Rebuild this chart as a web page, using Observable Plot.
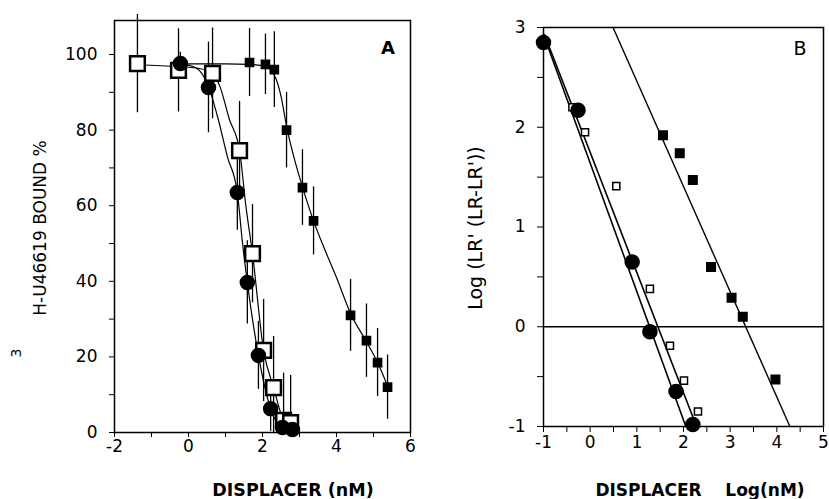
<!DOCTYPE html>
<html><head><meta charset="utf-8">
<script src="https://cdn.jsdelivr.net/npm/d3@7"></script>
<script src="https://cdn.jsdelivr.net/npm/@observablehq/plot@0.6"></script>
<style>
body{margin:0;background:#fff;}
#wrap{position:relative;width:829px;height:499px;overflow:hidden;background:#fff;}
#wrap svg{position:absolute;top:0;}
</style></head><body><div id="wrap"></div>
<script>
// ---------- Panel A data ----------
const openA_x   = [-1.38, -0.27, 0.65, 1.38, 1.73, 2.03, 2.30, 2.57, 2.76];
const openA_y   = [97.6, 95.8, 95.0, 74.6, 47.3, 21.7, 11.9, 3.2, 2.6];
const openA_err = [13, 11, 12, 13, 13, 13.5, 13.5, 12.5, 12.5];

const circA_x   = [-0.22, 0.54, 1.32, 1.59, 1.89, 2.22, 2.54, 2.81];
const circA_y   = [97.6, 91.3, 63.5, 39.7, 20.4, 6.3, 1.3, 0.8];
const circA_err = [3, 12, 10, 11, 9, 6, 3, 3];

const sqA_x   = [1.65, 2.08, 2.32, 2.65, 3.08, 3.38, 4.38, 4.81, 5.11, 5.38];
const sqA_y   = [97.9, 97.4, 96.0, 80.0, 64.8, 56.0, 31.0, 24.3, 18.5, 12.0];
const sqA_err = [9, 8, 10, 10, 10, 9, 9.5, 9.7, 9, 8.5];

// fitted curves
const curveOpenA_x = [-1.38, -0.27, 0.3, 0.65, 0.85, 1.1, 1.38, 1.55, 1.73, 2.03, 2.30, 2.57, 2.76];
const curveOpenA_y = [97.3, 96.8, 96.3, 95.0, 91.5, 83, 74.6, 60, 47.3, 21.7, 11.9, 3.2, 1.5];
const curveCircA_x = [-0.22, 0.2, 0.54, 0.8, 1.05, 1.32, 1.45, 1.59, 1.89, 2.22, 2.54, 2.81];
const curveCircA_y = [97.6, 96.5, 91.5, 83, 73, 63.5, 51, 39.7, 20.4, 6.3, 1.3, 0.8];
const curveSqA_x = [0.0, 1.0, 1.65, 2.08, 2.32, 2.5, 2.65, 2.9, 3.08, 3.38, 3.7, 4.0, 4.38, 4.81, 5.11, 5.38];
const curveSqA_y = [97.5, 97.5, 97.4, 96.8, 94.5, 89, 81, 71, 65, 56, 48, 41, 31.5, 24, 18.5, 12.3];

const xTicksA = [-2, -1, 0, 1, 2, 3, 4, 5, 6];
const xLabelsA = [-2, 0, 2, 4, 6];
const yTicksA = [0, 10, 20, 30, 40, 50, 60, 70, 80, 90, 100];
const yLabelsA = [0, 20, 40, 60, 80, 100];

// ---------- Panel B data ----------
const circB_x = [-1.0, -0.26, 0.90, 1.28, 1.84, 2.20];
const circB_y = [2.85, 2.17, 0.65, -0.05, -0.65, -0.98];
const openB_x = [-0.38, -0.11, 0.56, 1.28, 1.71, 2.01, 2.31];
const openB_y = [2.20, 1.95, 1.41, 0.38, -0.19, -0.54, -0.85];
const sqB_x = [1.56, 1.92, 2.20, 2.59, 3.03, 3.27, 3.97];
const sqB_y = [1.92, 1.74, 1.47, 0.60, 0.29, 0.10, -0.53];

const lineB1_x = [-1.0, 2.05];  const lineB1_y = [2.93, -1];
const lineB2_x = [-0.98, 2.28]; const lineB2_y = [2.93, -1];
const lineB3_x = [0.49, 4.28];  const lineB3_y = [3.0, -1];

const xTicksB = [-1, -0.5, 0, 0.5, 1, 1.5, 2, 2.5, 3, 3.5, 4, 4.5, 5];
const xLabelsB = [-1, 0, 1, 2, 3, 4, 5];
const yTicksB = [-1, -0.5, 0, 0.5, 1, 1.5, 2, 2.5, 3];
const yLabelsB = [-1, 0, 1, 2, 3];

// ---------- helpers ----------
const pts = (xs, ys, es) => xs.map((x, i) => ({x, y: ys[i], e: es ? es[i] : 0}));
const fmt = labels => d => labels.includes(d) ? String(d) : "";
const baseStyle = {fontFamily: "DejaVu Sans", fontSize: "17px", color: "black", background: "white", overflow: "visible"};

const openA = pts(openA_x, openA_y, openA_err);
const circA = pts(circA_x, circA_y, circA_err);
const sqA = pts(sqA_x, sqA_y, sqA_err);

const plotA = Plot.plot({
  width: 420, height: 499,
  marginLeft: 114, marginRight: 10, marginTop: 20, marginBottom: 67,
  x: {domain: [-2, 6]},
  y: {domain: [0, 109]},
  style: baseStyle,
  marks: [
    Plot.axisX({ticks: xTicksA, tickFormat: fmt(xLabelsA), tickSize: 5, tickPadding: 2, label: null}),
    Plot.axisY({ticks: yTicksA, tickFormat: fmt(yLabelsA), tickSize: 5, tickPadding: 12, label: null}),
    Plot.line(pts(curveOpenA_x, curveOpenA_y), {x: "x", y: "y", curve: "monotone-x", stroke: "black", strokeWidth: 1.2}),
    Plot.line(pts(curveCircA_x, curveCircA_y), {x: "x", y: "y", curve: "monotone-x", stroke: "black", strokeWidth: 1.2}),
    Plot.line(pts(curveSqA_x, curveSqA_y), {x: "x", y: "y", curve: "monotone-x", stroke: "black", strokeWidth: 1.2}),
    Plot.ruleX(openA, {x: "x", y1: d => Math.max(0, d.y - d.e), y2: d => d.y + d.e, stroke: "black", strokeWidth: 1.3}),
    Plot.ruleX(circA, {x: "x", y1: d => Math.max(0, d.y - d.e), y2: d => d.y + d.e, stroke: "black", strokeWidth: 1.3}),
    Plot.ruleX(sqA, {x: "x", y1: d => Math.max(0, d.y - d.e), y2: d => d.y + d.e, stroke: "black", strokeWidth: 1.3}),
    Plot.dot(openA, {x: "x", y: "y", symbol: "square", r: 8.3, fill: "white", stroke: "black", strokeWidth: 2.5}),
    Plot.dot(circA, {x: "x", y: "y", symbol: "circle", r: 7, fill: "black", stroke: "black"}),
    Plot.dot(sqA, {x: "x", y: "y", symbol: "square", r: 4.6, fill: "black", stroke: "black"}),
    Plot.frame({stroke: "black", strokeWidth: 1.5})
  ]
});
plotA.style.left = "0px";

const plotB = Plot.plot({
  width: 409, height: 499,
  marginLeft: 123, marginRight: 6, marginTop: 27, marginBottom: 73,
  x: {domain: [-1, 5]},
  y: {domain: [-1, 3]},
  style: baseStyle,
  marks: [
    Plot.axisX({ticks: xTicksB, tickFormat: fmt(xLabelsB), tickSize: 6, tickPadding: 3, label: null}),
    Plot.axisY({ticks: yTicksB, tickFormat: fmt(yLabelsB), tickSize: 6, tickPadding: 12, label: null}),
    Plot.ruleY([0], {stroke: "black", strokeWidth: 1.5}),
    Plot.line(pts(lineB1_x, lineB1_y), {x: "x", y: "y", stroke: "black", strokeWidth: 1.6}),
    Plot.line(pts(lineB2_x, lineB2_y), {x: "x", y: "y", stroke: "black", strokeWidth: 1.6}),
    Plot.line(pts(lineB3_x, lineB3_y), {x: "x", y: "y", stroke: "black", strokeWidth: 1.4}),
    Plot.dot(pts(openB_x, openB_y), {x: "x", y: "y", symbol: "square", r: 4, fill: "white", stroke: "black", strokeWidth: 1.5}),
    Plot.dot(pts(sqB_x, sqB_y), {x: "x", y: "y", symbol: "square", r: 4.8, fill: "black", stroke: "black"}),
    Plot.dot(pts(circB_x, circB_y), {x: "x", y: "y", symbol: "circle", r: 7, fill: "black", stroke: "black"}),
    Plot.frame({stroke: "black", strokeWidth: 1.5})
  ]
});
plotB.style.left = "420px";

const wrap = document.getElementById("wrap");
wrap.appendChild(plotA);
wrap.appendChild(plotB);

// ---------- text labels ----------
const sA = d3.select(plotA);
sA.append("text").attr("x", 293).attr("y", 496).attr("text-anchor", "middle")
  .attr("font-family", "DejaVu Sans").attr("font-weight", "bold").attr("font-size", 17.5)
  .text("DISPLACER (nM)");
sA.append("text").attr("transform", "translate(46,228) rotate(-90)").attr("text-anchor", "middle")
  .attr("font-family", "DejaVu Sans").attr("font-size", 17)
  .text("H-U46619 BOUND %");
sA.append("text").attr("transform", "translate(21,353) rotate(-90)").attr("text-anchor", "middle")
  .attr("font-family", "DejaVu Sans").attr("font-size", 14)
  .text("3");
sA.append("text").attr("x", 388).attr("y", 54).attr("text-anchor", "middle")
  .attr("font-family", "DejaVu Sans").attr("font-weight", "bold").attr("font-size", 18)
  .text("A");

const sB = d3.select(plotB);
sB.append("text").attr("x", 280).attr("y", 496).attr("text-anchor", "middle")
  .attr("font-family", "DejaVu Sans").attr("font-weight", "bold").attr("font-size", 17)
  .style("white-space", "pre").attr("xml:space", "preserve")
  .text("DISPLACER    Log(nM)");
sB.append("text").attr("transform", "translate(62,228) rotate(-90)").attr("text-anchor", "middle")
  .attr("font-family", "DejaVu Sans").attr("font-size", 19)
  .text("Log (LR' (LR-LR'))");
sB.append("text").attr("x", 380).attr("y", 55).attr("text-anchor", "middle")
  .attr("font-family", "DejaVu Sans").attr("font-size", 19)
  .text("B");
</script></body></html>
